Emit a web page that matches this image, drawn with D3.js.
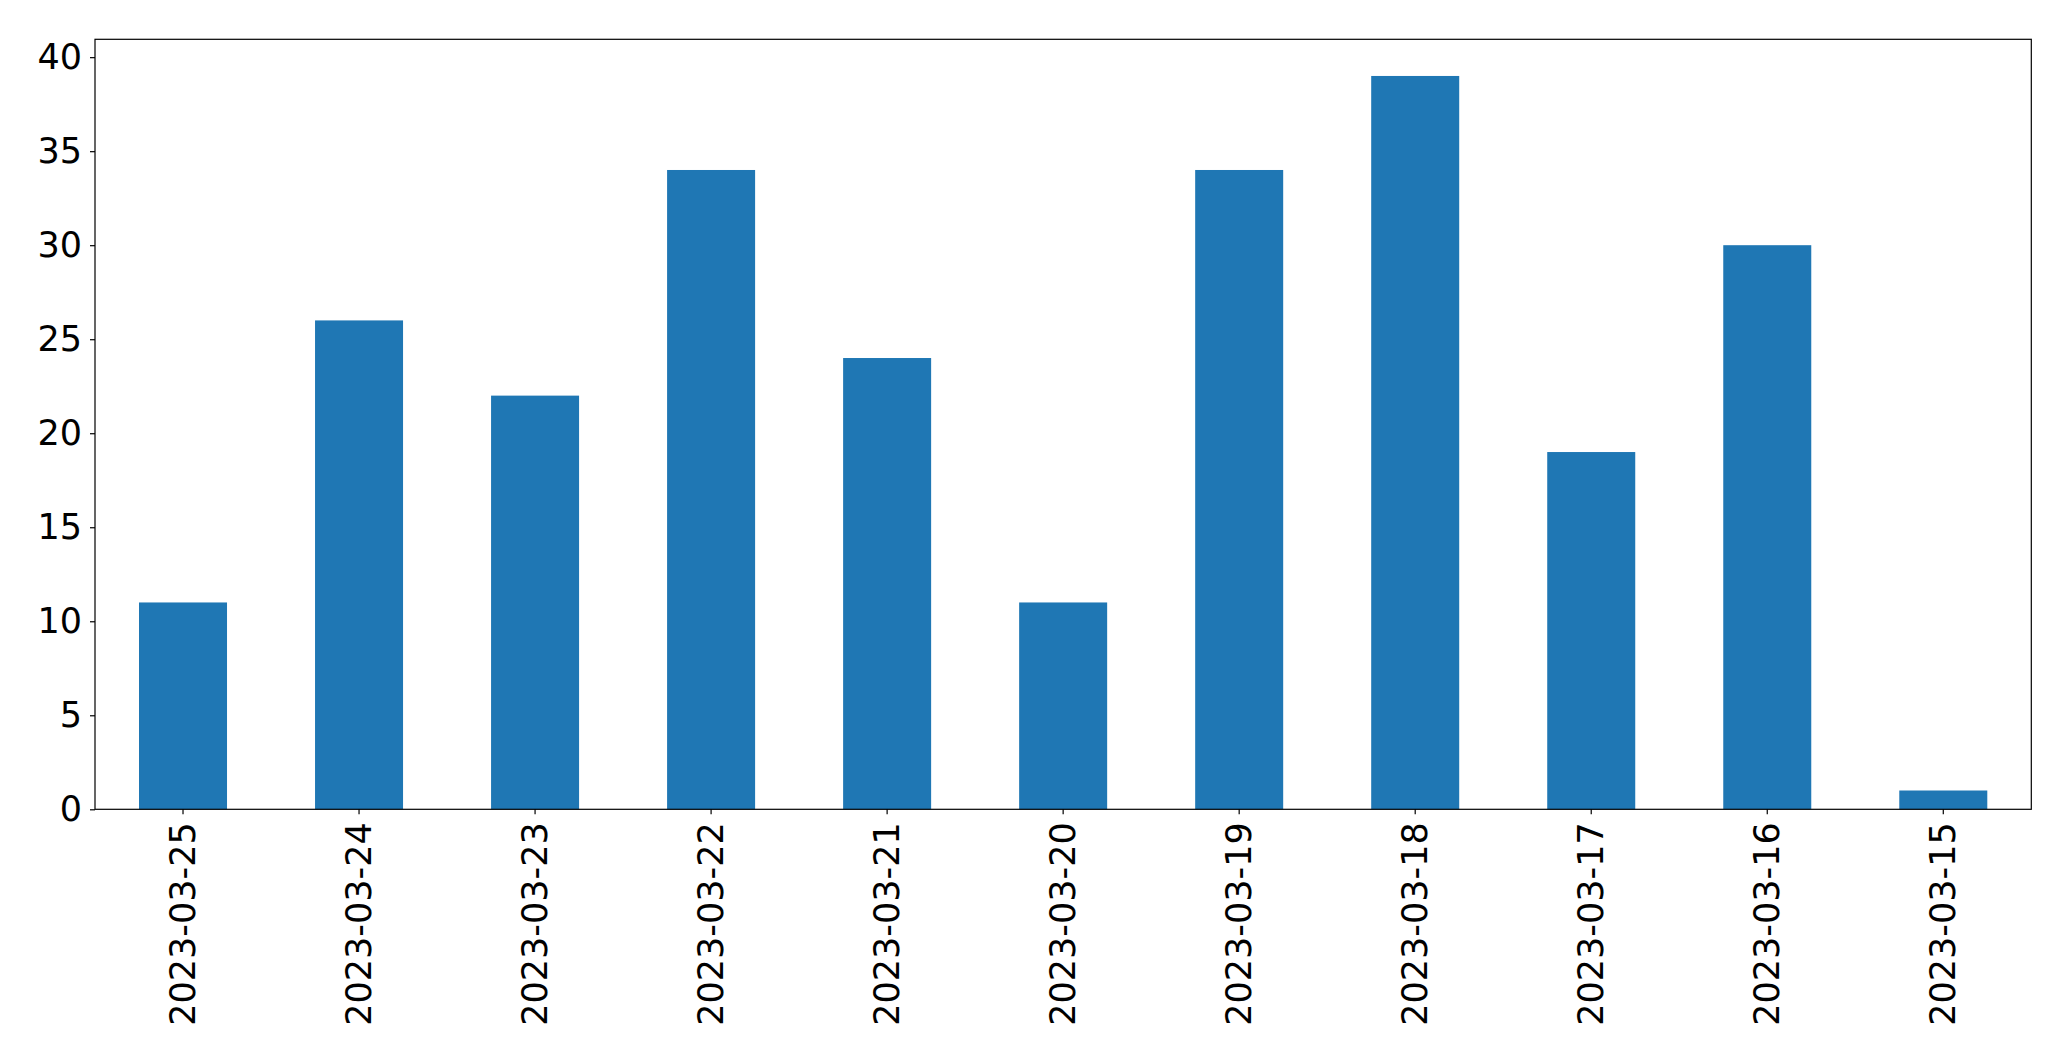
<!DOCTYPE html>
<html>
<head>
<meta charset="utf-8">
<script src="https://cdn.jsdelivr.net/npm/d3@7"></script>
<style>
  html, body { margin: 0; padding: 0; background: #fff; }
  svg { display: block; }
  text { font-family: "DejaVu Sans", sans-serif; fill: #000; }
</style>
</head>
<body>
<svg id="chart" width="2071" height="1061"></svg>
<script>
const categories = ["2023-03-25","2023-03-24","2023-03-23","2023-03-22","2023-03-21","2023-03-20","2023-03-19","2023-03-18","2023-03-17","2023-03-16","2023-03-15"];
const values = [11, 26, 22, 34, 24, 11, 34, 39, 19, 30, 1];
const yTicks = [0, 5, 10, 15, 20, 25, 30, 35, 40];

const W = 2071, H = 1061;
const margin = {left: 95, right: 2071 - 2031.3, top: 39.3, bottom: 1061 - 809.3};
const svg = d3.select("#chart");
const innerW = W - margin.left - margin.right;
const innerH = H - margin.top - margin.bottom;
const g = svg.append("g").attr("transform", `translate(${margin.left},${margin.top})`);

const x = d3.scaleBand().domain(categories).range([0, innerW]).paddingInner(0.5).paddingOuter(0.25);
const yMax = d3.max(values) * 1.05;
const y = d3.scaleLinear().domain([0, yMax]).range([innerH, 0]);

g.selectAll("rect.bar").data(values).enter().append("rect")
  .attr("class", "bar")
  .attr("x", (d, i) => x(categories[i]))
  .attr("width", x.bandwidth())
  .attr("y", d => y(d))
  .attr("height", d => innerH - y(d))
  .attr("fill", "#1f77b4");

const fs = 35;
const yAxis = d3.axisLeft(y).tickValues(yTicks).tickSize(5).tickPadding(8).tickFormat(d3.format("d"));
const ya = g.append("g").call(yAxis);
ya.select(".domain").remove();
ya.selectAll("text").style("font-size", fs + "px").attr("font-family", "DejaVu Sans");
ya.selectAll("line").attr("stroke", "#000").attr("stroke-width", 1.2);

const xAxis = d3.axisBottom(x).tickSize(5).tickPadding(0);
const xa = g.append("g").attr("transform", `translate(0,${innerH})`).call(xAxis);
xa.select(".domain").remove();
xa.selectAll("line").attr("stroke", "#000").attr("stroke-width", 1.2);
xa.selectAll("text")
  .style("font-size", fs + "px")
  .attr("font-family", "DejaVu Sans")
  .attr("dy", null)
  .attr("y", 0)
  .attr("x", 0)
  .attr("text-anchor", "end")
  .attr("dominant-baseline", "central")
  .attr("transform", "translate(0,13) rotate(-90)");

g.append("rect")
  .attr("x", 0).attr("y", 0)
  .attr("width", innerW).attr("height", innerH)
  .attr("fill", "none").attr("stroke", "#000").attr("stroke-width", 1.2);
</script>
</body>
</html>
